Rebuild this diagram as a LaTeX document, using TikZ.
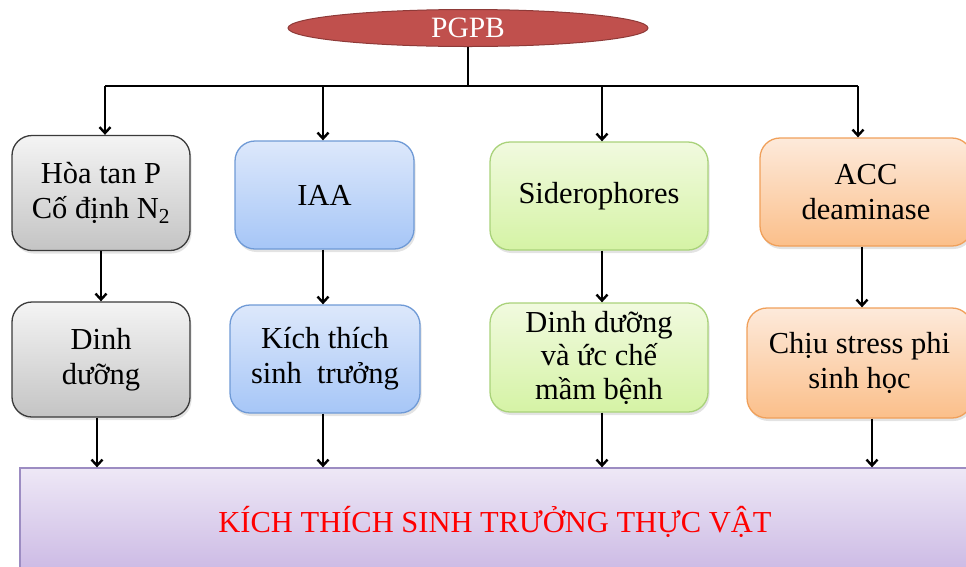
\documentclass[tikz,border=0pt]{standalone}
\usepackage{fontspec}
\setmainfont{Liberation Serif}
\usetikzlibrary{shapes.geometric,arrows.meta,shadows}

\definecolor{grayTop}{HTML}{F4F4F4}
\definecolor{grayBot}{HTML}{C4C4C4}
\definecolor{grayEdge}{HTML}{3A3A3A}
\definecolor{blueTop}{HTML}{DDE8FB}
\definecolor{blueBot}{HTML}{A6C6F7}
\definecolor{blueEdge}{HTML}{6F9AD6}
\definecolor{greenTop}{HTML}{F1FADF}
\definecolor{greenBot}{HTML}{D5F3A5}
\definecolor{greenEdge}{HTML}{A9D27A}
\definecolor{orangeTop}{HTML}{FDEADB}
\definecolor{orangeBot}{HTML}{FBBF8A}
\definecolor{orangeEdge}{HTML}{F0A05A}
\definecolor{lilacTop}{HTML}{EEE8F6}
\definecolor{lilacBot}{HTML}{C9B6E3}
\definecolor{lilacEdge}{HTML}{9C8CC2}
\definecolor{pgpbFill}{HTML}{C0504D}
\definecolor{pgpbEdge}{HTML}{8E3A38}

\tikzset{
  card/.style={rounded corners=20pt, line width=1.3pt, align=center,
    inner sep=0pt, font=\fontsize{30.5}{35}\selectfont,
    drop shadow={opacity=0.22, shadow xshift=1.5pt, shadow yshift=-3pt}},
  graybox/.style={card, draw=grayEdge, top color=grayTop, bottom color=grayBot},
  bluebox/.style={card, draw=blueEdge, top color=blueTop, bottom color=blueBot},
  greenbox/.style={card, draw=greenEdge, top color=greenTop, bottom color=greenBot},
  orangebox/.style={card, draw=orangeEdge, top color=orangeTop, bottom color=orangeBot},
  arr/.style={line width=2.6pt, -{Straight Barb[length=6pt,width=11pt,line width=2.4pt]}},
  wire/.style={line width=2.6pt}
}

\begin{document}
\begin{tikzpicture}[x=1pt,y=-1pt]
\useasboundingbox (0,0) rectangle (966,566);

% root
\node[ellipse, minimum width=360pt, minimum height=37pt, inner sep=0pt,
      fill=pgpbFill, draw=pgpbEdge, line width=1pt, text=white,
      font=\fontsize{29.5}{30}\selectfont] (root) at (468,28) {PGPB};

% first row
\node[graybox, minimum width=178pt, minimum height=115pt] (g1) at (101,193)
  {Hòa tan P\\Cố định N\textsubscript{2}};
\node[bluebox, minimum width=179pt, minimum height=108pt] (b1) at (324.5,195) {IAA};
\node[greenbox, minimum width=218pt, minimum height=108pt] (v1) at (599,196) {Siderophores};
\node[orangebox, minimum width=212pt, minimum height=108pt] (o1) at (866,192) {ACC\\deaminase};

% second row
\node[graybox, minimum width=178pt, minimum height=115pt] (g2) at (101,359.5)
  {Dinh\\dưỡng};
\node[bluebox, minimum width=190pt, minimum height=108pt] (b2) at (325,359)
  {Kích thích\\sinh~ trưởng};
\node[greenbox, minimum width=218pt, minimum height=109pt,
      font=\fontsize{30.5}{33.5}\selectfont] (v2) at (599,357.5)
  {Dinh dưỡng\\và ức chế\\mầm bệnh};
\node[orangebox, minimum width=225pt, minimum height=110pt] (o2) at (859.5,363)
  {Chịu stress phi\\sinh học};

% result
\node[rectangle, line width=1.3pt, draw=lilacEdge, top color=lilacTop, bottom color=lilacBot,
      minimum width=955pt, minimum height=112pt, inner sep=0pt] (res) at (497.5,524) {};
\node[text=red, font=\fontsize{30.5}{34}\selectfont] (restext) at (495,522)
  {KÍCH THÍCH SINH TRƯỞNG THỰC VẬT};

% column positions
\coordinate (k1) at (105,86);
\coordinate (k2) at (323,86);
\coordinate (k3) at (602,86);
\coordinate (k4) at (858,86);
\coordinate (m4) at (862,0);
\coordinate (d1) at (97,0);
\coordinate (d2) at (323,0);
\coordinate (d3) at (602,0);
\coordinate (d4) at (872,0);

% distribution bus
\draw[wire] (root.south) -- (root.south |- k1);
\draw[wire] (k1) -- (k4);
\foreach \k/\n in {k1/g1, k2/b1, k3/v1, k4/o1}
  \draw[arr] (\k) -- (\k |- \n.north);

% first row to second row
\draw[arr] (g1.south) -- (g2.north);
\draw[arr] (b1.south -| k2) -- (b2.north -| k2);
\draw[arr] (v1.south -| k3) -- (v2.north -| k3);
\draw[arr] (o1.south -| m4) -- (o2.north -| m4);

% second row to result
\foreach \d/\n in {d1/g2, d2/b2, d3/v2, d4/o2}
  \draw[arr] (\n.south -| \d) -- (res.north -| \d);
\end{tikzpicture}
\end{document}
